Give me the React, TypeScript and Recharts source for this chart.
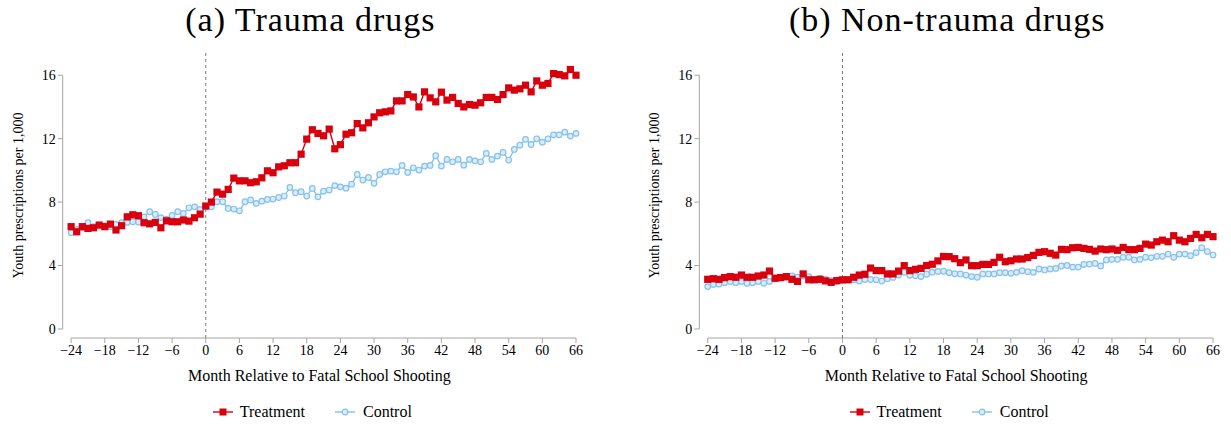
import { Legend, Line, LineChart, ReferenceLine, XAxis, YAxis } from "recharts";

const months = [
  -24, -23, -22, -21, -20, -19, -18, -17, -16, -15, -14, -13, -12, -11, -10, -9, -8, -7, -6, -5, -4, -3, -2, -1,
  0, 1, 2, 3, 4, 5, 6, 7, 8, 9, 10, 11, 12, 13, 14, 15, 16, 17, 18, 19, 20, 21, 22, 23, 24, 25, 26, 27, 28, 29,
  30, 31, 32, 33, 34, 35, 36, 37, 38, 39, 40, 41, 42, 43, 44, 45, 46, 47, 48, 49, 50, 51, 52, 53, 54, 55, 56, 57,
  58, 59, 60, 61, 62, 63, 64, 65, 66,
];

const xTicks = [-24, -18, -12, -6, 0, 6, 12, 18, 24, 30, 36, 42, 48, 54, 60, 66];
const yTicks = [0, 4, 8, 12, 16];

const traumaTreatment = [
  6.45, 6.13, 6.45, 6.34, 6.38, 6.55, 6.45, 6.61, 6.24, 6.51, 7.07, 7.2, 7.14, 6.7, 6.63, 6.72, 6.38, 6.82, 6.76,
  6.76, 6.87, 6.8, 7.01, 7.24, 7.75, 8.0, 8.63, 8.5, 8.8, 9.51, 9.34, 9.34, 9.22, 9.28, 9.53, 9.97, 9.85, 10.22,
  10.29, 10.48, 10.48, 11.02, 11.97, 12.56, 12.33, 12.18, 12.6, 11.36, 11.62, 12.28, 12.37, 12.95, 12.68, 13.0,
  13.37, 13.63, 13.69, 13.75, 14.38, 14.38, 14.78, 14.63, 14.0, 14.95, 14.57, 14.32, 14.93, 14.43, 14.6, 14.22,
  14.0, 14.15, 14.11, 14.26, 14.6, 14.6, 14.47, 14.78, 15.2, 15.06, 15.14, 15.37, 14.95, 15.64, 15.37, 15.48,
  16.1, 16.04, 15.96, 16.36, 16.0,
];

const traumaControl = [
  6.07, 6.28, 6.4, 6.7, 6.45, 6.55, 6.5, 6.45, 6.59, 6.7, 6.72, 6.76, 6.74, 7.07, 7.39, 7.22, 7.02, 6.92, 7.16,
  7.39, 7.28, 7.64, 7.7, 7.54, 7.7, 7.7, 8.02, 8.02, 7.6, 7.56, 7.45, 8.02, 8.13, 7.92, 8.06, 8.17, 8.19, 8.29,
  8.38, 8.92, 8.59, 8.65, 8.38, 8.86, 8.33, 8.69, 8.76, 9.04, 8.96, 8.88, 9.13, 9.74, 9.39, 9.55, 9.18, 9.74,
  9.91, 9.95, 9.91, 10.31, 9.87, 10.16, 10.02, 10.27, 10.31, 10.92, 10.27, 10.69, 10.54, 10.69, 10.33, 10.69,
  10.6, 10.54, 11.07, 10.69, 10.9, 11.13, 10.65, 11.32, 11.59, 11.95, 11.63, 11.99, 11.78, 11.99, 12.24, 12.24,
  12.41, 12.16, 12.33,
];

const nonTraumaTreatment = [
  3.13, 3.17, 3.13, 3.24, 3.3, 3.26, 3.4, 3.26, 3.26, 3.34, 3.4, 3.65, 3.2, 3.24, 3.3, 3.13, 3.0, 3.47, 3.1, 3.1,
  3.13, 3.03, 2.94, 3.05, 3.1, 3.1, 3.26, 3.4, 3.45, 3.84, 3.68, 3.68, 3.47, 3.47, 3.65, 3.99, 3.68, 3.76, 3.82,
  4.0, 4.08, 4.29, 4.57, 4.56, 4.43, 4.18, 4.35, 3.99, 3.99, 4.07, 4.07, 4.2, 4.52, 4.24, 4.3, 4.41, 4.41, 4.5,
  4.64, 4.83, 4.87, 4.77, 4.66, 5.02, 5.0, 5.12, 5.14, 5.08, 5.02, 4.91, 5.04, 5.0, 5.04, 4.96, 5.14, 5.0, 5.0,
  5.08, 5.35, 5.29, 5.5, 5.6, 5.5, 5.88, 5.6, 5.5, 5.71, 5.96, 5.75, 5.96, 5.82,
];

const nonTraumaControl = [
  2.67, 2.81, 2.83, 2.92, 3.0, 2.92, 3.0, 2.88, 2.92, 3.0, 2.88, 3.0, 3.15, 3.2, 3.26, 3.34, 3.26, 3.34, 3.3, 3.1,
  3.2, 3.13, 3.05, 2.97, 3.05, 3.13, 3.1, 3.03, 3.12, 3.12, 3.1, 3.02, 3.17, 3.25, 3.4, 3.57, 3.38, 3.35, 3.3,
  3.45, 3.58, 3.63, 3.64, 3.55, 3.48, 3.47, 3.4, 3.3, 3.26, 3.47, 3.47, 3.47, 3.55, 3.55, 3.51, 3.57, 3.67, 3.61,
  3.57, 3.78, 3.72, 3.78, 3.82, 3.97, 4.0, 3.9, 3.9, 4.07, 4.09, 4.13, 3.97, 4.35, 4.39, 4.39, 4.52, 4.52, 4.35,
  4.39, 4.52, 4.5, 4.58, 4.58, 4.72, 4.52, 4.72, 4.72, 4.62, 4.81, 5.12, 4.88, 4.66,
];

const red = "#d9000d";
const blue = "#86c1ec";
const blueFill = "#d9ecfa";
const axisGray = "#a6a6a6";
const serif = "'Liberation Serif', 'Times New Roman', serif";

const fmtMonth = (v: number) => (v < 0 ? "\u2212" + Math.abs(v) : String(v));

function SquareDot(props: any) {
  const { cx, cy, index } = props;
  if (cx == null || cy == null) return null;
  return <rect key={`sq-${index}`} x={cx - 3.6} y={cy - 3.6} width={7.2} height={7.2} fill={red} />;
}

function LegendContent() {
  return (
    <div
      style={{
        display: "flex",
        justifyContent: "center",
        alignItems: "center",
        fontFamily: serif,
        fontSize: 16,
        color: "#000",
      }}
    >
      <svg width={20} height={10} style={{ marginRight: 7 }}>
        <line x1={0} y1={5} x2={20} y2={5} stroke={red} strokeWidth={1.4} />
        <rect x={6.5} y={1.5} width={7} height={7} fill={red} />
      </svg>
      <span style={{ marginRight: 30 }}>Treatment</span>
      <svg width={20} height={10} style={{ marginRight: 8 }}>
        <line x1={0} y1={5} x2={20} y2={5} stroke={blue} strokeWidth={1.4} />
        <circle cx={10} cy={5} r={2.8} fill={blueFill} stroke={blue} strokeWidth={1.2} />
      </svg>
      <span>Control</span>
    </div>
  );
}

function Panel({
  title,
  treatment,
  control,
  left,
  width,
  marginLeft,
  marginRight,
}: {
  title: string;
  treatment: number[];
  control: number[];
  left: number;
  width: number;
  marginLeft: number;
  marginRight: number;
}) {
  const data = months.map((m, i) => ({ month: m, treatment: treatment[i], control: control[i] }));
  const plotCenter = marginLeft + 50 + (width - marginLeft - 50 - marginRight) / 2;
  return (
    <div style={{ position: "absolute", left, top: 0, width, height: 426 }}>
      <div
        style={{
          position: "absolute",
          top: 0,
          left: plotCenter - 250 - 9,
          width: 500,
          textAlign: "center",
          fontFamily: serif,
          fontSize: 34,
          letterSpacing: 1,
          lineHeight: "40px",
          color: "#000",
        }}
      >
        {title}
      </div>
      <LineChart
        width={width}
        height={426}
        data={data}
        margin={{ top: 53, right: marginRight, left: marginLeft, bottom: 48 }}
      >
        <XAxis
          dataKey="month"
          type="number"
          domain={[-25.5, 66]}
          ticks={xTicks}
          tickFormatter={fmtMonth}
          axisLine={false}
          tickLine={{ stroke: axisGray }}
          tickSize={5}
          height={40}
          tick={{ fill: "#000", fontSize: 14, fontFamily: serif }}
          label={{
            value: "Month Relative to Fatal School Shooting",
            position: "insideBottom",
            offset: -3,
            fill: "#000",
            style: { fontSize: 16, fontFamily: serif },
          }}
        />
        <YAxis
          type="number"
          domain={[-0.57, 17.4]}
          ticks={yTicks}
          axisLine={false}
          tickLine={{ stroke: axisGray }}
          tickSize={5}
          width={50}
          tick={{ fill: "#000", fontSize: 14, fontFamily: serif }}
          label={{
            value: "Youth prescriptions per 1,000",
            angle: -90,
            position: "insideLeft",
            offset: 5,
            fill: "#000",
            style: { fontSize: 14, fontFamily: serif, textAnchor: "middle" },
          }}
        />
        <ReferenceLine
          segment={[
            { x: -25.5, y: 0 },
            { x: -25.5, y: 16 },
          ]}
          stroke={axisGray}
          ifOverflow="visible"
        />
        <ReferenceLine
          segment={[
            { x: -24, y: -0.57 },
            { x: 66, y: -0.57 },
          ]}
          stroke={axisGray}
          ifOverflow="visible"
        />
        <ReferenceLine x={0} stroke="#7a7a7a" strokeDasharray="3 3" />
        <Legend
          layout="vertical"
          align="center"
          verticalAlign="middle"
          content={<LegendContent />}
          wrapperStyle={{ position: "absolute", top: 403, left: plotCenter - 200 - 7, width: 400 }}
        />
        <Line
          dataKey="control"
          stroke={blue}
          strokeWidth={1.4}
          dot={{ r: 2.8, fill: blueFill, stroke: blue, strokeWidth: 1.2 }}
          isAnimationActive={false}
          legendType="none"
        />
        <Line
          dataKey="treatment"
          stroke={red}
          strokeWidth={1.4}
          dot={SquareDot}
          isAnimationActive={false}
          legendType="none"
        />
      </LineChart>
    </div>
  );
}

export default function App() {
  return (
    <div style={{ position: "absolute", left: 0, top: 0, width: 1231, height: 426, background: "#fff" }}>
      <Panel
        title="(a) Trauma drugs"
        treatment={traumaTreatment}
        control={traumaControl}
        left={0}
        width={615}
        marginLeft={12.7}
        marginRight={39}
      />
      <Panel
        title="(b) Non-trauma drugs"
        treatment={nonTraumaTreatment}
        control={nonTraumaControl}
        left={615}
        width={616}
        marginLeft={34.3}
        marginRight={18}
      />
    </div>
  );
}
